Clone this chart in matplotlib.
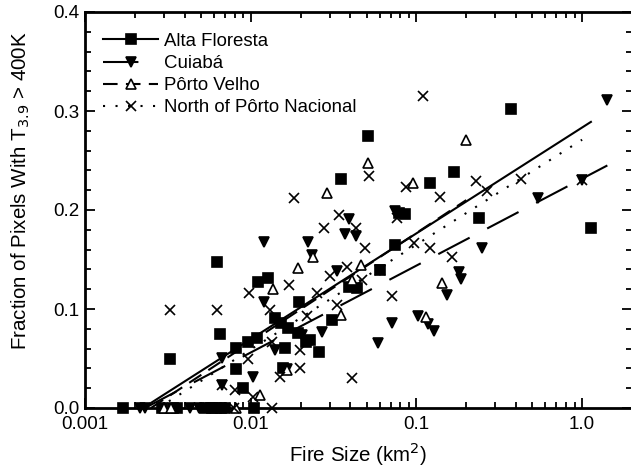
import numpy as np
import matplotlib
matplotlib.use("Agg")
import matplotlib.pyplot as plt
from matplotlib.ticker import LogLocator, MultipleLocator, FixedLocator, NullFormatter

plt.rcParams["font.family"] = ["Liberation Sans", "DejaVu Sans"]

# fire size (km^2) and fraction of pixels with T3.9 > 400K
alta_x = [0.0017, 0.00325, 0.0063, 0.0065, 0.0082, 0.0082, 0.0096, 0.0109, 0.011,
          0.0127, 0.014, 0.0153, 0.016, 0.0195, 0.0167, 0.0192, 0.0217, 0.026,
          0.031, 0.035, 0.051, 0.039, 0.044, 0.06, 0.074, 0.078, 0.085, 0.121,
          0.169, 0.24, 0.373, 1.13, 0.009, 0.0156, 0.0227,
          0.0029, 0.0034, 0.0036, 0.0053, 0.0058, 0.0062, 0.0066, 0.0070, 0.0105]
alta_y = [0.0, 0.049, 0.147, 0.075, 0.039, 0.061, 0.067, 0.071, 0.127,
          0.131, 0.091, 0.086, 0.061, 0.107, 0.081, 0.076, 0.067, 0.057,
          0.089, 0.231, 0.275, 0.122, 0.121, 0.139, 0.165, 0.197, 0.196, 0.227,
          0.238, 0.192, 0.302, 0.182, 0.020, 0.040, 0.069,
          0.0, 0.0, 0.0, 0.0, 0.0, 0.0, 0.0, 0.0, 0.0]

cuiaba_x = [1.42, 1.0, 0.54, 0.25, 0.181, 0.187, 0.153, 0.102, 0.118, 0.128,
            0.071, 0.059, 0.039, 0.037, 0.043, 0.0121, 0.0223, 0.0233, 0.033,
            0.074, 0.0121, 0.027, 0.0203, 0.014, 0.0067, 0.0103, 0.0165, 0.0067,
            0.06, 0.00214, 0.0023, 0.0043, 0.0049, 0.0057]
cuiaba_y = [0.311, 0.230, 0.212, 0.162, 0.137, 0.130, 0.114, 0.093, 0.085, 0.078,
            0.086, 0.066, 0.191, 0.176, 0.174, 0.168, 0.168, 0.155, 0.138,
            0.199, 0.107, 0.077, 0.074, 0.059, 0.051, 0.031, 0.039, 0.023,
            0.139, 0.0, 0.0, 0.0, 0.0, 0.0]

velho_x = [0.2, 0.051, 0.029, 0.095, 0.0194, 0.0237, 0.046, 0.041, 0.035, 0.0136,
           0.143, 0.114, 0.0165, 0.0113, 0.003, 0.0033, 0.0082]
velho_y = [0.271, 0.247, 0.217, 0.227, 0.141, 0.153, 0.144, 0.129, 0.094, 0.120,
           0.126, 0.092, 0.038, 0.013, 0.0, 0.0, 0.0]

north_x = [0.109, 0.052, 0.0182, 0.034, 0.0276, 0.043, 0.049, 0.038, 0.030, 0.087,
           0.229, 0.138, 0.43, 1.0, 0.266, 0.076, 0.097, 0.12, 0.165, 0.071,
           0.041, 0.017, 0.0097, 0.013, 0.025, 0.033, 0.022, 0.0197, 0.0096,
           0.015, 0.0197, 0.00325, 0.0063, 0.0080, 0.0103, 0.047, 0.06, 0.0134,
           0.0067, 0.0079, 0.0104, 0.0134]
north_y = [0.315, 0.234, 0.212, 0.195, 0.182, 0.182, 0.162, 0.142, 0.133, 0.223,
           0.229, 0.213, 0.231, 0.230, 0.219, 0.192, 0.167, 0.162, 0.153, 0.113,
           0.030, 0.124, 0.116, 0.099, 0.116, 0.104, 0.093, 0.059, 0.050,
           0.031, 0.040, 0.099, 0.099, 0.018, 0.011, 0.129, 0.139, 0.067,
           0.023, 0.0, 0.0, 0.0]

# regression line end points
alta_fit_x, alta_fit_y = [0.00224, 1.13], [0.0, 0.289]
cuiaba_fit_x, cuiaba_fit_y = [0.0023, 1.42], [0.0, 0.245]
velho_fit_x, velho_fit_y = [0.0025, 0.2], [0.0, 0.21]
north_fit_x, north_fit_y = [0.00277, 1.0], [0.0, 0.271]

y_ticks = [0.0, 0.1, 0.2, 0.3, 0.4]
y_tick_labels = ["0.0", "0.1", "0.2", "0.3", "0.4"]
x_ticks = [0.001, 0.01, 0.1, 1.0]
x_tick_labels = ["0.001", "0.01", "0.1", "1.0"]

fig = plt.figure(figsize=(6.31, 4.70), dpi=100)
ax = fig.add_axes([85 / 631, 62 / 470, 547 / 631, 396 / 470])

lw = 1.5
series = [
    ("Alta Floresta", alta_x, alta_y, alta_fit_x, alta_fit_y, "s", "-", True),
    ("Cuiabá", cuiaba_x, cuiaba_y, cuiaba_fit_x, cuiaba_fit_y, "v", (0, (17, 9.5)), True),
    ("Pôrto Velho", velho_x, velho_y, velho_fit_x, velho_fit_y, "^", (0, (7, 4)), False),
    ("North of Pôrto Nacional", north_x, north_y, north_fit_x, north_fit_y, "x", (0, (1, 5)), True),
]

handles = []
for label, x, y, fx, fy, marker, ls, filled in series:
    face = "black" if filled else "white"
    ms = 6.5 if marker == "x" else 7
    ax.plot(x, y, linestyle="none", marker=marker, ms=ms, mfc=face, mec="black",
            mew=1.2, clip_on=False, zorder=3)
    ax.plot(fx, fy, color="black", lw=lw, linestyle=ls, zorder=2)
    h, = ax.plot([], [], color="black", lw=lw, linestyle=ls, marker=marker, ms=ms,
                 mfc=face, mec="black", mew=1.2)
    handles.append(h)

ax.set_xscale("log")
ax.set_xlim(0.001, 2.0)
ax.set_ylim(0.0, 0.4)

ax.xaxis.set_major_locator(FixedLocator(x_ticks))
ax.set_xticklabels(x_tick_labels)
ax.xaxis.set_minor_locator(LogLocator(base=10, subs=np.arange(2, 10)))
ax.xaxis.set_minor_formatter(NullFormatter())
ax.yaxis.set_major_locator(FixedLocator(y_ticks))
ax.set_yticklabels(y_tick_labels)
ax.yaxis.set_minor_locator(MultipleLocator(0.02))

ax.tick_params(which="both", direction="in", top=True, right=True, labelsize=13.5,
               width=1.3, color="black")
ax.tick_params(which="major", length=7)
ax.tick_params(axis="x", which="major", pad=6)
ax.tick_params(axis="y", which="major", pad=4)
ax.tick_params(which="minor", length=4)
for s in ax.spines.values():
    s.set_linewidth(2)

ax.set_xlabel("Fire Size (km$^2$)", fontsize=14.8, labelpad=5)
ax.set_ylabel("Fraction of Pixels With T$_{3.9}$ > 400K", fontsize=14.8)
ax.yaxis.set_label_coords(-0.097, 0.55)

ax.legend(handles, [s[0] for s in series], loc="upper left", frameon=False,
          fontsize=13.4, numpoints=1, handlelength=2.95, handletextpad=0.3,
          labelspacing=0.27, borderaxespad=0.3, bbox_to_anchor=(0.01, 0.98))

fig.savefig("out.png", dpi=100)
